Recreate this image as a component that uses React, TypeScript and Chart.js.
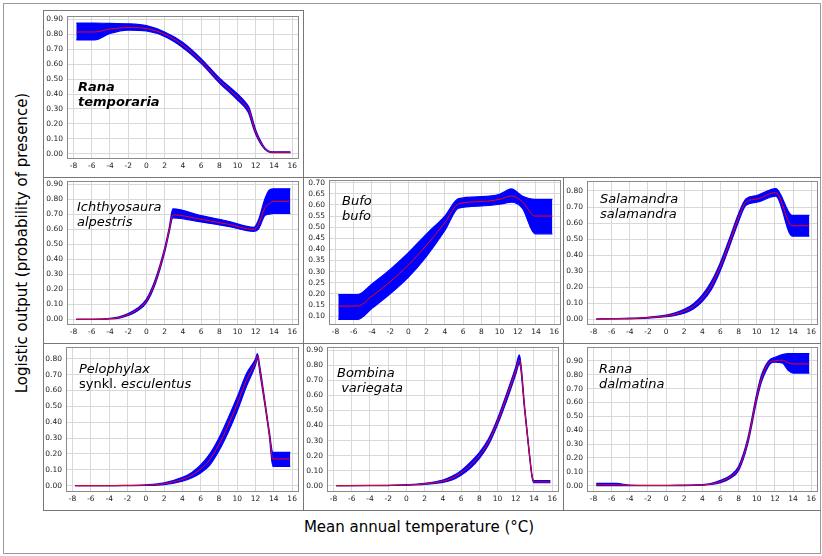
import React, { useEffect, useRef } from "react";
import { Chart, registerables } from "chart.js";
Chart.register(...registerables);

// ---------- data ----------
const xTicks = [-8, -6, -4, -2, 0, 2, 4, 6, 8, 10, 12, 14, 16];
const yTicksTenth = [0, 0.1, 0.2, 0.3, 0.4, 0.5, 0.6, 0.7, 0.8, 0.9];
const yTicksBufo = [0.1, 0.15, 0.2, 0.25, 0.3, 0.35, 0.4, 0.45, 0.5, 0.55, 0.6, 0.65, 0.7];

// Rana temporaria
const rtX = [-7.7, -5.7, -4, -2, 0, 2, 4, 6, 8, 10, 11, 11.3, 11.7, 12, 12.5, 13, 13.8, 15.8];
const rtMean = [0.815, 0.815, 0.835, 0.845, 0.838, 0.8, 0.727, 0.62, 0.49, 0.38, 0.315, 0.285, 0.2, 0.145, 0.08, 0.035, 0.01, 0.01];
const rtLo = [0.762, 0.762, 0.805, 0.828, 0.822, 0.785, 0.71, 0.605, 0.475, 0.36, 0.295, 0.26, 0.18, 0.13, 0.07, 0.03, 0.007, 0.007];
const rtHi = [0.875, 0.875, 0.872, 0.87, 0.858, 0.815, 0.745, 0.637, 0.507, 0.4, 0.335, 0.305, 0.22, 0.16, 0.09, 0.04, 0.013, 0.013];

// Ichthyosaura alpestris
const iaX = [-7.7, -6, -4, -3, -2, -1, 0, 1, 2, 2.5, 2.9, 6, 9, 11.8, 12.3, 13, 13.5, 14, 15.8];
const iaMean = [0, 0, 0.004, 0.012, 0.032, 0.064, 0.122, 0.255, 0.46, 0.594, 0.695, 0.665, 0.632, 0.598, 0.63, 0.74, 0.77, 0.785, 0.785];
const iaLo = [0, 0, 0.002, 0.008, 0.026, 0.055, 0.11, 0.24, 0.445, 0.578, 0.675, 0.648, 0.618, 0.585, 0.6, 0.69, 0.7, 0.705, 0.705];
const iaHi = [0, 0, 0.006, 0.016, 0.038, 0.073, 0.134, 0.27, 0.475, 0.61, 0.735, 0.69, 0.652, 0.612, 0.66, 0.8, 0.86, 0.868, 0.868];

// Bufo bufo
const bbX = [-7.7, -5.6, -4, -2, 0, 2, 4, 5.5, 8, 10, 11.3, 12.5, 13.9, 15.8];
const bbMean = [0.145, 0.145, 0.19, 0.255, 0.33, 0.42, 0.52, 0.605, 0.615, 0.625, 0.64, 0.615, 0.55, 0.55];
const bbLo = [0.085, 0.085, 0.135, 0.2, 0.275, 0.37, 0.485, 0.585, 0.595, 0.603, 0.612, 0.585, 0.47, 0.47];
const bbHi = [0.197, 0.197, 0.245, 0.31, 0.385, 0.47, 0.55, 0.628, 0.637, 0.648, 0.672, 0.64, 0.625, 0.625];

// Salamandra salamandra
const ssX = [-7.7, -6, -4, -2, 0, 1, 2, 3, 4, 5, 6, 7, 8, 8.8, 10, 12.1, 13.9, 15.8];
const ssMean = [0, 0.001, 0.003, 0.008, 0.019, 0.03, 0.048, 0.078, 0.13, 0.21, 0.33, 0.48, 0.635, 0.73, 0.75, 0.79, 0.583, 0.583];
const ssLo = [0, 0, 0.001, 0.005, 0.014, 0.022, 0.036, 0.062, 0.11, 0.185, 0.305, 0.455, 0.61, 0.71, 0.73, 0.768, 0.518, 0.518];
const ssHi = [0, 0.002, 0.005, 0.011, 0.024, 0.038, 0.06, 0.094, 0.15, 0.235, 0.355, 0.505, 0.66, 0.75, 0.772, 0.815, 0.648, 0.648];

// Pelophylax synkl. esculentus
const peX = [-7.7, -4, -2, 0, 2, 4, 5, 6, 7, 8, 9, 10, 11, 12, 12.2, 12.5, 13, 13.5, 13.9, 15.8];
const peMean = [0, 0, 0.001, 0.003, 0.012, 0.04, 0.065, 0.105, 0.165, 0.26, 0.38, 0.515, 0.665, 0.78, 0.818, 0.72, 0.53, 0.33, 0.168, 0.168];
const peLo = [0, 0, 0, 0.001, 0.007, 0.028, 0.048, 0.08, 0.13, 0.22, 0.335, 0.47, 0.625, 0.76, 0.8, 0.7, 0.515, 0.315, 0.122, 0.122];
const peHi = [0, 0, 0.002, 0.005, 0.017, 0.052, 0.082, 0.13, 0.2, 0.3, 0.425, 0.56, 0.705, 0.8, 0.832, 0.74, 0.545, 0.345, 0.21, 0.21];

// Bombina variegata
const bvX = [-7.7, -4, -2, 0, 2, 4, 5, 6, 7, 8, 9, 10, 11, 12, 12.4, 13, 13.5, 13.8, 14, 15.8];
const bvMean = [0, 0.001, 0.002, 0.005, 0.012, 0.03, 0.05, 0.085, 0.135, 0.2, 0.29, 0.425, 0.59, 0.765, 0.835, 0.5, 0.21, 0.06, 0.025, 0.025];
const bvLo = [0, 0, 0.001, 0.003, 0.008, 0.022, 0.038, 0.07, 0.115, 0.18, 0.27, 0.405, 0.565, 0.74, 0.81, 0.485, 0.2, 0.052, 0.02, 0.02];
const bvHi = [0, 0.002, 0.003, 0.007, 0.016, 0.038, 0.062, 0.1, 0.155, 0.22, 0.31, 0.445, 0.612, 0.79, 0.87, 0.515, 0.22, 0.068, 0.033, 0.033];

// Rana dalmatina
const rdX = [-7.7, -5.5, -4, -2, 0, 2, 4, 5, 6, 7, 8, 9, 10, 10.5, 11, 11.5, 12, 12.8, 13.5, 14, 15.8];
const rdMean = [0.006, 0.006, 0.002, 0.001, 0.001, 0.002, 0.005, 0.012, 0.03, 0.06, 0.125, 0.32, 0.64, 0.77, 0.85, 0.895, 0.9, 0.905, 0.885, 0.878, 0.878];
const rdLo = [0, 0, 0, 0, 0, 0, 0.003, 0.008, 0.022, 0.05, 0.11, 0.3, 0.615, 0.745, 0.825, 0.88, 0.89, 0.885, 0.83, 0.812, 0.812];
const rdHi = [0.016, 0.016, 0.004, 0.002, 0.002, 0.004, 0.007, 0.016, 0.038, 0.07, 0.14, 0.34, 0.665, 0.795, 0.87, 0.912, 0.925, 0.945, 0.952, 0.952, 0.952];

// ---------- layout ----------
const FONT = "'DejaVu Sans', Verdana, sans-serif";
const X_MIN = -8.72;
const X_MAX = 16.75;

type PanelDef = {
  x: number[]; mean: number[]; lo: number[]; hi: number[];
  yMin: number; yMax: number; yTicks: number[];
  box: [number, number, number, number];
  plot: [number, number, number, number];
  name: React.ReactNode; nameLeft: number; nameTop: number; bold?: boolean;
};

const panels: PanelDef[] = [
  { x: rtX, mean: rtMean, lo: rtLo, hi: rtHi, yMin: -0.035, yMax: 0.922, yTicks: yTicksTenth,
    box: [43, 10, 303, 177], plot: [67, 16, 299, 159],
    name: <>Rana<br />temporaria</>, nameLeft: 78, nameTop: 79, bold: true },
  { x: iaX, mean: iaMean, lo: iaLo, hi: iaHi, yMin: -0.038, yMax: 0.92, yTicks: yTicksTenth,
    box: [43, 177, 303, 343], plot: [67, 181, 299, 325],
    name: <>Ichthyosaura<br />alpestris</>, nameLeft: 77, nameTop: 199 },
  { x: bbX, mean: bbMean, lo: bbLo, hi: bbHi, yMin: 0.06, yMax: 0.712, yTicks: yTicksBufo,
    box: [303, 177, 563, 343], plot: [329, 180, 561, 325],
    name: <>Bufo<br />bufo</>, nameLeft: 342, nameTop: 193 },
  { x: ssX, mean: ssMean, lo: ssLo, hi: ssHi, yMin: -0.0375, yMax: 0.8625, yTicks: yTicksTenth,
    box: [563, 177, 820, 343], plot: [587, 181, 818, 325],
    name: <>Salamandra<br />salamandra</>, nameLeft: 600, nameTop: 191 },
  { x: peX, mean: peMean, lo: peLo, hi: peHi, yMin: -0.04, yMax: 0.874, yTicks: yTicksTenth,
    box: [43, 343, 303, 510], plot: [66, 347, 299, 492],
    name: <>Pelophylax<br /><span style={{ fontStyle: "normal" }}>synkl.</span> esculentus</>, nameLeft: 79, nameTop: 361 },
  { x: bvX, mean: bvMean, lo: bvLo, hi: bvHi, yMin: -0.042, yMax: 0.922, yTicks: yTicksTenth,
    box: [303, 343, 563, 510], plot: [327, 347, 559, 492],
    name: <>Bombina<br />&nbsp;variegata</>, nameLeft: 337, nameTop: 365 },
  { x: rdX, mean: rdMean, lo: rdLo, hi: rdHi, yMin: -0.046, yMax: 1.0, yTicks: yTicksTenth,
    box: [563, 343, 820, 510], plot: [587, 347, 818, 492],
    name: <>Rana<br />dalmatina</>, nameLeft: 599, nameTop: 361 },
];

const frameBorder = {
  id: "frameBorder",
  afterDatasetsDraw(chart: any) {
    const { ctx, chartArea } = chart;
    ctx.save();
    ctx.strokeStyle = "#8a8a8a";
    ctx.lineWidth = 1;
    ctx.strokeRect(Math.round(chartArea.left) + 0.5, Math.round(chartArea.top) + 0.5,
      Math.round(chartArea.right - chartArea.left) - 1, Math.round(chartArea.bottom - chartArea.top) - 1);
    ctx.restore();
  },
};

const zeroPad = (s: any) => {
  s.paddingTop = 0; s.paddingBottom = 0; s.paddingLeft = 0; s.paddingRight = 0;
};

function Panel({ p }: { p: PanelDef }) {
  const ref = useRef<HTMLCanvasElement>(null);
  const cl = p.box[0] + 1, ct = p.box[1] + 1, cr = p.box[2], cb = p.box[3];
  const w = cr - cl, h = cb - ct;
  useEffect(() => {
    if (!ref.current) return;
    const yW = p.plot[0] - cl;
    const padTop = p.plot[1] - ct;
    const padRight = cr - p.plot[2];
    const xH = cb - p.plot[3];
    const pts = (ys: number[]) => p.x.map((xv, i) => ({ x: xv, y: ys[i] }));
    const tickFont = { family: FONT, size: 7.5 };
    const yT = p.yTicks.filter((v) => v >= p.yMin && v <= p.yMax);
    const chart = new Chart(ref.current, {
      type: "line",
      data: {
        datasets: [
          { data: pts(p.mean), borderColor: "#ff0000", borderWidth: 1, pointRadius: 0, fill: false,
            cubicInterpolationMode: "monotone", order: 0 },
          { data: pts(p.hi), borderColor: "#0000ff", backgroundColor: "#0000ff", borderWidth: 1.2,
            pointRadius: 0, fill: "+1", cubicInterpolationMode: "monotone", order: 1 },
          { data: pts(p.lo), borderColor: "#0000ff", backgroundColor: "#0000ff", borderWidth: 1.2,
            pointRadius: 0, fill: false, cubicInterpolationMode: "monotone", order: 2 },
        ],
      } as any,
      options: {
        responsive: false,
        animation: false,
        events: [],
        layout: { padding: { top: padTop, right: padRight, left: 0, bottom: 0 } },
        plugins: { legend: { display: false }, tooltip: { enabled: false } },
        scales: {
          x: {
            type: "linear", min: X_MIN, max: X_MAX,
            afterBuildTicks: (s: any) => { s.ticks = xTicks.map((v) => ({ value: v })); },
            afterFit: (s: any) => { s.height = xH; zeroPad(s); },
            ticks: { font: tickFont, color: "#222", padding: 3, maxRotation: 0, autoSkip: false,
              callback: (v: any) => String(v) },
            grid: { color: "#d8d8d8", drawTicks: false },
            border: { display: false },
          },
          y: {
            type: "linear", min: p.yMin, max: p.yMax,
            afterBuildTicks: (s: any) => { s.ticks = yT.map((v) => ({ value: v })); },
            afterFit: (s: any) => { s.width = yW; zeroPad(s); },
            ticks: { font: tickFont, color: "#222", padding: 4, autoSkip: false,
              callback: (v: any) => Number(v).toFixed(2) },
            grid: { color: "#d8d8d8", drawTicks: false },
            border: { display: false },
          },
        },
      } as any,
      plugins: [frameBorder],
    });
    return () => chart.destroy();
  }, []);
  return (
    <>
      <canvas ref={ref} width={w} height={h}
        style={{ position: "absolute", left: cl, top: ct, width: w, height: h }} />
      <div style={{ position: "absolute", left: p.nameLeft, top: p.nameTop, font: `italic ${p.bold ? "bold " : ""}13px/15px ${FONT}`, color: "#000", whiteSpace: "nowrap" }}>
        {p.name}
      </div>
    </>
  );
}

const lineColor = "#777";
function HLine({ x1, x2, y }: { x1: number; x2: number; y: number }) {
  return <div style={{ position: "absolute", left: x1, top: y, width: x2 - x1 + 1, height: 1, background: lineColor }} />;
}
function VLine({ y1, y2, x }: { y1: number; y2: number; x: number }) {
  return <div style={{ position: "absolute", left: x, top: y1, width: 1, height: y2 - y1 + 1, background: lineColor }} />;
}

export default function App() {
  return (
    <div style={{ position: "absolute", left: 0, top: 0, width: 822, height: 556, background: "#fff", overflow: "hidden" }}>
      <div style={{ position: "absolute", left: 3, top: 3, width: 816, height: 549, border: "1px solid #999" }} />
      {panels.map((p, i) => <Panel key={i} p={p} />)}
      <HLine x1={43} x2={303} y={10} />
      <HLine x1={43} x2={820} y={177} />
      <HLine x1={43} x2={820} y={343} />
      <HLine x1={43} x2={820} y={510} />
      <VLine x={43} y1={10} y2={510} />
      <VLine x={303} y1={10} y2={510} />
      <VLine x={563} y1={177} y2={510} />
      <div style={{ position: "absolute", left: 419, top: 518, transform: "translateX(-50%)", font: `15px ${FONT}`, color: "#000", whiteSpace: "nowrap" }}>
        Mean annual temperature (°C)
      </div>
      <div style={{ position: "absolute", left: 22, top: 243, transform: "translate(-50%, -50%) rotate(-90deg)", font: `15px ${FONT}`, color: "#000", whiteSpace: "nowrap" }}>
        Logistic output (probability of presence)
      </div>
    </div>
  );
}
